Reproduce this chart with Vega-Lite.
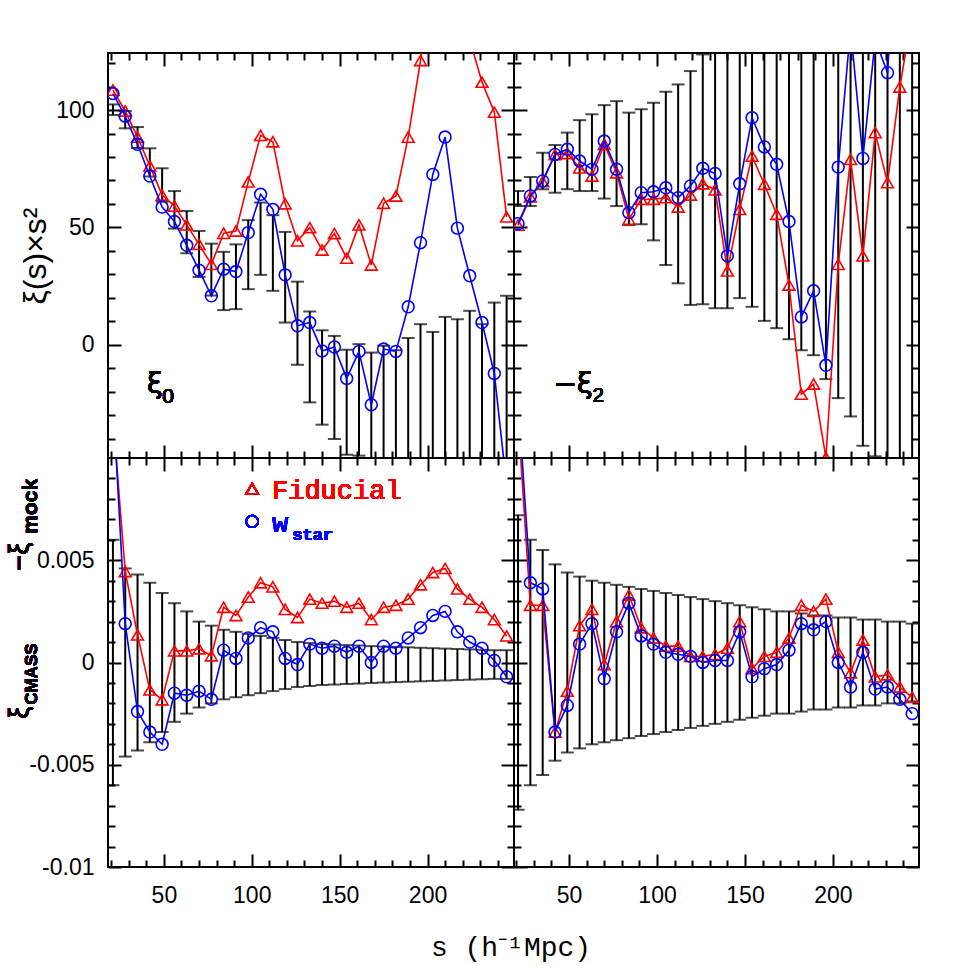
{
  "$schema": "https://vega.github.io/schema/vega-lite/v6.json",
  "background": "white",
  "padding": {"left": 5, "top": 51, "right": 5, "bottom": 5},
  "spacing": 0,
  "bounds": "flush",
  "columns": 2,
  "config": {
    "view": {"stroke": "black", "strokeWidth": 2},
    "axis": {"domain": false, "grid": false, "tickColor": "black", "tickWidth": 2, "labelColor": "black", "labelFont": "Liberation Sans", "labelFontSize": 23, "labelOverlap": false, "labelFlush": false, "title": null}
  },
  "title": {"text": "s (h⁻¹Mpc)", "orient": "bottom", "anchor": "middle", "font": "Liberation Mono", "fontSize": 28, "fontWeight": "normal", "color": "black", "offset": 20, "dx": 48},
  "datasets": {
    "d": [
      {"p":"TL","s":21,"f":108.5,"w":107,"lo":97.9,"hi":102.4},
      {"p":"TL","s":28,"f":99.6,"w":97.4,"lo":92.2,"hi":99.6},
      {"p":"TL","s":35,"f":88.5,"w":85.4,"lo":83.8,"hi":92.8},
      {"p":"TL","s":42,"f":76.2,"w":71.9,"lo":71.7,"hi":83.7},
      {"p":"TL","s":49,"f":63.8,"w":58.7,"lo":61,"hi":75.2},
      {"p":"TL","s":56,"f":59.1,"w":52.5,"lo":49.5,"hi":65.5},
      {"p":"TL","s":63,"f":51.1,"w":42.4,"lo":39,"hi":57},
      {"p":"TL","s":70,"f":42.8,"w":31.8,"lo":28.9,"hi":48.5},
      {"p":"TL","s":77,"f":34.3,"w":20.9,"lo":21,"hi":43.1},
      {"p":"TL","s":84,"f":47.5,"w":32.2,"lo":14.8,"hi":39.6},
      {"p":"TL","s":91,"f":48.5,"w":31.2,"lo":15.2,"hi":42.8},
      {"p":"TL","s":98,"f":69.4,"w":47.8,"lo":23.7,"hi":53.1},
      {"p":"TL","s":105,"f":89.2,"w":64.1,"lo":29.8,"hi":60.6},
      {"p":"TL","s":112,"f":86.5,"w":57.7,"lo":23,"hi":55.2},
      {"p":"TL","s":119,"f":60.1,"w":29.8,"lo":9.5,"hi":48.1},
      {"p":"TL","s":126,"f":44.3,"w":8.1,"lo":-8.5,"hi":26.9},
      {"p":"TL","s":133,"f":49.9,"w":9.5,"lo":-24.5,"hi":14.2},
      {"p":"TL","s":140,"f":40.4,"w":-2.6,"lo":-34,"hi":6.2},
      {"p":"TL","s":147,"f":47.4,"w":-0.9,"lo":-40.1,"hi":3.8},
      {"p":"TL","s":154,"f":36.9,"w":-14.3,"lo":-46.8,"hi":-2.1},
      {"p":"TL","s":161,"f":51.1,"w":-2.8,"lo":-47.2,"hi":0.3},
      {"p":"TL","s":168,"f":34,"w":-25.5,"lo":-53,"hi":-3.3},
      {"p":"TL","s":175,"f":60.3,"w":-1.8,"lo":-55,"hi":-0.4},
      {"p":"TL","s":182,"f":63.4,"w":-2.8,"lo":-60,"hi":-2.3},
      {"p":"TL","s":189,"f":88.5,"w":16.2,"lo":-60,"hi":2.9},
      {"p":"TL","s":196,"f":121.1,"w":43.5,"lo":-62,"hi":8.8},
      {"p":"TL","s":203,"f":155,"w":72.6,"lo":-65,"hi":5.5},
      {"p":"TL","s":210,"f":170,"w":88.5,"lo":-65,"hi":11.9},
      {"p":"TL","s":217,"f":160,"w":49.7,"lo":-70,"hi":10.9},
      {"p":"TL","s":224,"f":130,"w":29.4,"lo":-70,"hi":14.5},
      {"p":"TL","s":231,"f":111.9,"w":9.5,"lo":-80,"hi":8.8},
      {"p":"TL","s":238,"f":99.1,"w":-12.2,"lo":-80,"hi":18},
      {"p":"TL","s":245,"f":54.5,"w":-60,"lo":-85,"hi":20.9},

      {"p":"TR","s":21,"f":51,"w":51.6,"lo":59.1,"hi":65.5},
      {"p":"TR","s":28,"f":63,"w":63.4,"lo":59.1,"hi":71.5},
      {"p":"TR","s":35,"f":69.5,"w":69.8,"lo":66.3,"hi":81.8},
      {"p":"TR","s":42,"f":81,"w":81.1,"lo":64.8,"hi":85.1},
      {"p":"TR","s":49,"f":81.5,"w":83.3,"lo":66.3,"hi":90.4},
      {"p":"TR","s":56,"f":75.4,"w":78.3,"lo":65.5,"hi":95.7},
      {"p":"TR","s":63,"f":71.9,"w":74.8,"lo":65.5,"hi":98.2},
      {"p":"TR","s":70,"f":85.4,"w":86.8,"lo":62.3,"hi":102.1},
      {"p":"TR","s":77,"f":73.3,"w":74.8,"lo":59.1,"hi":103.8},
      {"p":"TR","s":84,"f":53.5,"w":56.3,"lo":51,"hi":98.9},
      {"p":"TR","s":91,"f":62,"w":64.8,"lo":51.4,"hi":100.3},
      {"p":"TR","s":98,"f":62,"w":65.2,"lo":44.5,"hi":103.1},
      {"p":"TR","s":105,"f":62.7,"w":66.9,"lo":34,"hi":107.8},
      {"p":"TR","s":112,"f":58.7,"w":62.7,"lo":26.2,"hi":110.9},
      {"p":"TR","s":119,"f":63.8,"w":67.7,"lo":17,"hi":116.6},
      {"p":"TR","s":126,"f":68.6,"w":75.2,"lo":17.3,"hi":123.7},
      {"p":"TR","s":133,"f":66,"w":73,"lo":15.6,"hi":135},
      {"p":"TR","s":140,"f":31.5,"w":37.9,"lo":15.6,"hi":140},
      {"p":"TR","s":147,"f":57.7,"w":68.6,"lo":19.9,"hi":145},
      {"p":"TR","s":154,"f":80.4,"w":96.7,"lo":16.2,"hi":150},
      {"p":"TR","s":161,"f":68.4,"w":84.3,"lo":10.2,"hi":155},
      {"p":"TR","s":168,"f":55.6,"w":76.9,"lo":7.1,"hi":160},
      {"p":"TR","s":175,"f":25.5,"w":52.5,"lo":2.4,"hi":165},
      {"p":"TR","s":182,"f":-21,"w":11.9,"lo":-2.3,"hi":170},
      {"p":"TR","s":189,"f":-16.7,"w":23,"lo":-4.4,"hi":170},
      {"p":"TR","s":196,"f":-48,"w":-8.7,"lo":-14.6,"hi":175},
      {"p":"TR","s":203,"f":34.3,"w":75.7,"lo":-22.7,"hi":180},
      {"p":"TR","s":210,"f":79,"w":135,"lo":-30.5,"hi":185},
      {"p":"TR","s":217,"f":37.9,"w":79.4,"lo":-43,"hi":190},
      {"p":"TR","s":224,"f":90.4,"w":130,"lo":-47.5,"hi":195},
      {"p":"TR","s":231,"f":69.1,"w":115.9,"lo":-55,"hi":200},
      {"p":"TR","s":238,"f":109.8,"w":200,"lo":-60,"hi":200},
      {"p":"TR","s":245,"f":141,"w":220,"lo":-65,"hi":200},

      {"p":"BL","s":21,"f":0.012,"w":0.013,"lo":-0.006,"hi":0.006},
      {"p":"BL","s":28,"f":0.00445,"w":0.0019,"lo":-0.0046,"hi":0.0046},
      {"p":"BL","s":35,"f":0.00135,"w":-0.0024,"lo":-0.0043,"hi":0.0043},
      {"p":"BL","s":42,"f":-0.00134,"w":-0.0034,"lo":-0.0039,"hi":0.0039},
      {"p":"BL","s":49,"f":-0.00182,"w":-0.004,"lo":-0.0034,"hi":0.0034},
      {"p":"BL","s":56,"f":0.00057,"w":-0.0015,"lo":-0.0029,"hi":0.0029},
      {"p":"BL","s":63,"f":0.00057,"w":-0.0016,"lo":-0.0025,"hi":0.0025},
      {"p":"BL","s":70,"f":0.00067,"w":-0.0014,"lo":-0.0022,"hi":0.002},
      {"p":"BL","s":77,"f":0.00033,"w":-0.0018,"lo":-0.002,"hi":0.0018},
      {"p":"BL","s":84,"f":0.0027,"w":0.0006,"lo":-0.0018,"hi":0.0016},
      {"p":"BL","s":91,"f":0.0023,"w":0.0002,"lo":-0.0017,"hi":0.0015},
      {"p":"BL","s":98,"f":0.0032,"w":0.0012,"lo":-0.0016,"hi":0.0014},
      {"p":"BL","s":105,"f":0.0039,"w":0.0017,"lo":-0.0015,"hi":0.0013},
      {"p":"BL","s":112,"f":0.0037,"w":0.0015,"lo":-0.0014,"hi":0.0012},
      {"p":"BL","s":119,"f":0.0026,"w":0.0002,"lo":-0.0013,"hi":0.0011},
      {"p":"BL","s":126,"f":0.0022,"w":-0.0001,"lo":-0.0012,"hi":0.001},
      {"p":"BL","s":133,"f":0.0031,"w":0.0009,"lo":-0.00115,"hi":0.00095},
      {"p":"BL","s":140,"f":0.0029,"w":0.0007,"lo":-0.0011,"hi":0.0009},
      {"p":"BL","s":147,"f":0.003,"w":0.0008,"lo":-0.00108,"hi":0.00088},
      {"p":"BL","s":154,"f":0.0027,"w":0.0005,"lo":-0.00105,"hi":0.00085},
      {"p":"BL","s":161,"f":0.0029,"w":0.0008,"lo":-0.00103,"hi":0.00083},
      {"p":"BL","s":168,"f":0.0021,"w":0.0,"lo":-0.001,"hi":0.0008},
      {"p":"BL","s":175,"f":0.0027,"w":0.0008,"lo":-0.00098,"hi":0.00078},
      {"p":"BL","s":182,"f":0.0028,"w":0.0007,"lo":-0.00096,"hi":0.00076},
      {"p":"BL","s":189,"f":0.0031,"w":0.0012,"lo":-0.00094,"hi":0.00074},
      {"p":"BL","s":196,"f":0.0038,"w":0.0017,"lo":-0.00092,"hi":0.00072},
      {"p":"BL","s":203,"f":0.0044,"w":0.0023,"lo":-0.0009,"hi":0.0007},
      {"p":"BL","s":210,"f":0.0046,"w":0.0025,"lo":-0.00088,"hi":0.00068},
      {"p":"BL","s":217,"f":0.0036,"w":0.0015,"lo":-0.00086,"hi":0.00066},
      {"p":"BL","s":224,"f":0.0031,"w":0.001,"lo":-0.00084,"hi":0.00064},
      {"p":"BL","s":231,"f":0.0027,"w":0.0007,"lo":-0.00082,"hi":0.00062},
      {"p":"BL","s":238,"f":0.0021,"w":0.0001,"lo":-0.0008,"hi":0.0006},
      {"p":"BL","s":245,"f":0.0013,"w":-0.0007,"lo":-0.0008,"hi":0.0006},

      {"p":"BR","s":21,"f":0.012,"w":0.013,"lo":-0.0072,"hi":0.0072},
      {"p":"BR","s":28,"f":0.0028,"w":0.0039,"lo":-0.006,"hi":0.006},
      {"p":"BR","s":35,"f":0.0028,"w":0.0036,"lo":-0.0055,"hi":0.0055},
      {"p":"BR","s":42,"f":-0.0034,"w":-0.0034,"lo":-0.0048,"hi":0.0048},
      {"p":"BR","s":49,"f":-0.0014,"w":-0.0021,"lo":-0.0044,"hi":0.0044},
      {"p":"BR","s":56,"f":0.0018,"w":0.0009,"lo":-0.0042,"hi":0.0042},
      {"p":"BR","s":63,"f":0.0026,"w":0.0019,"lo":-0.004,"hi":0.004},
      {"p":"BR","s":70,"f":-0.0001,"w":-0.0008,"lo":-0.0039,"hi":0.0039},
      {"p":"BR","s":77,"f":0.002,"w":0.0015,"lo":-0.0038,"hi":0.0038},
      {"p":"BR","s":84,"f":0.0033,"w":0.0029,"lo":-0.0037,"hi":0.0037},
      {"p":"BR","s":91,"f":0.0017,"w":0.0013,"lo":-0.0036,"hi":0.0036},
      {"p":"BR","s":98,"f":0.0012,"w":0.0009,"lo":-0.0035,"hi":0.0035},
      {"p":"BR","s":105,"f":0.0008,"w":0.0005,"lo":-0.0034,"hi":0.0034},
      {"p":"BR","s":112,"f":0.0008,"w":0.0004,"lo":-0.0033,"hi":0.0033},
      {"p":"BR","s":119,"f":0.0003,"w":0.0003,"lo":-0.0032,"hi":0.0032},
      {"p":"BR","s":126,"f":0.0003,"w":0.0,"lo":-0.0031,"hi":0.0031},
      {"p":"BR","s":133,"f":0.0004,"w":0.0001,"lo":-0.003,"hi":0.003},
      {"p":"BR","s":140,"f":0.0007,"w":0.0001,"lo":-0.0029,"hi":0.0029},
      {"p":"BR","s":147,"f":0.002,"w":0.0015,"lo":-0.0028,"hi":0.0028},
      {"p":"BR","s":154,"f":-0.0003,"w":-0.0007,"lo":-0.0027,"hi":0.0027},
      {"p":"BR","s":161,"f":0.0003,"w":-0.0003,"lo":-0.0026,"hi":0.0026},
      {"p":"BR","s":168,"f":0.0005,"w":-0.0001,"lo":-0.0025,"hi":0.0025},
      {"p":"BR","s":175,"f":0.0012,"w":0.0006,"lo":-0.0025,"hi":0.0025},
      {"p":"BR","s":182,"f":0.0028,"w":0.0019,"lo":-0.0024,"hi":0.0024},
      {"p":"BR","s":189,"f":0.0025,"w":0.0016,"lo":-0.0023,"hi":0.0023},
      {"p":"BR","s":196,"f":0.0031,"w":0.002,"lo":-0.0023,"hi":0.0023},
      {"p":"BR","s":203,"f":0.0005,"w":0.0,"lo":-0.0022,"hi":0.0022},
      {"p":"BR","s":210,"f":-0.0005,"w":-0.0012,"lo":-0.0022,"hi":0.0022},
      {"p":"BR","s":217,"f":0.0011,"w":0.0005,"lo":-0.0021,"hi":0.0021},
      {"p":"BR","s":224,"f":-0.0007,"w":-0.0013,"lo":-0.0021,"hi":0.0021},
      {"p":"BR","s":231,"f":-0.0006,"w":-0.0012,"lo":-0.002,"hi":0.002},
      {"p":"BR","s":238,"f":-0.0012,"w":-0.0018,"lo":-0.002,"hi":0.002},
      {"p":"BR","s":245,"f":-0.0017,"w":-0.0025,"lo":-0.0019,"hi":0.0019}
    ]
  },
  "concat": [
        {
          "width": 406, "height": 405,
          "data": {"name": "d"},
          "transform": [{"filter": "datum.p === 'TL'"}],
          "resolve": {"axis": {"x": "independent", "y": "independent"}},
          "layer": [
            {"mark": {"type": "rule", "clip": true, "color": "black", "strokeWidth": 2},
             "encoding": {
               "x": {"field": "s", "type": "quantitative", "scale": {"domain": [18.2, 249.2], "nice": false, "zero": false},
                     "axis": {"orient": "bottom", "values": [20,30,40,50,60,70,80,90,100,110,120,130,140,150,160,170,180,190,200,210,220,230,240], "labels": false,
                              "tickSize": {"condition": {"test": "datum.value % 50 === 0", "value": -13}, "value": -7}}},
               "y": {"field": "lo", "type": "quantitative", "scale": {"domain": [-48.2, 124.3], "nice": false, "zero": false},
                     "axis": {"orient": "left", "values": [-40,-30,-20,-10,0,10,20,30,40,50,60,70,80,90,100,110,120],
                              "tickSize": {"condition": {"test": "datum.value % 50 === 0", "value": -13}, "value": -7},
                              "labelExpr": "datum.value % 50 === 0 ? datum.label : ''", "labelPadding": 27,
                              "title": "ξ(s)×s²", "titleFont": "Liberation Sans", "titleFontSize": 32, "titleFontWeight": "normal", "titleColor": "black", "titlePadding": 3}},
               "y2": {"field": "hi"}}},
            {"mark": {"type": "tick", "clip": true, "color": "black", "thickness": 2, "size": 13, "orient": "horizontal"},
             "encoding": {
               "x": {"field": "s", "type": "quantitative",
                     "axis": {"orient": "top", "values": [20,30,40,50,60,70,80,90,100,110,120,130,140,150,160,170,180,190,200,210,220,230,240], "labels": false,
                              "tickSize": {"condition": {"test": "datum.value % 50 === 0", "value": -13}, "value": -7}}},
               "y": {"field": "lo", "type": "quantitative",
                     "axis": {"orient": "right", "values": [-40,-30,-20,-10,0,10,20,30,40,50,60,70,80,90,100,110,120], "labels": false,
                              "tickSize": {"condition": {"test": "datum.value % 50 === 0", "value": -13}, "value": -7}}}}},
            {"mark": {"type": "tick", "clip": true, "color": "black", "thickness": 2, "size": 13, "orient": "horizontal"},
             "encoding": {"x": {"field": "s", "type": "quantitative", "axis": null}, "y": {"field": "hi", "type": "quantitative", "axis": null}}},
            {"mark": {"type": "line", "clip": true, "color": "#ff0000", "strokeWidth": 1.6},
             "encoding": {"x": {"field": "s", "type": "quantitative", "axis": null}, "y": {"field": "f", "type": "quantitative", "axis": null}}},
            {"mark": {"type": "point", "clip": true, "shape": "triangle-up", "filled": false, "color": "#ff0000", "size": 140, "strokeWidth": 1.6, "opacity": 1},
             "encoding": {"x": {"field": "s", "type": "quantitative", "axis": null}, "y": {"field": "f", "type": "quantitative", "axis": null}}},
            {"mark": {"type": "line", "clip": true, "color": "#0000ff", "strokeWidth": 1.6},
             "encoding": {"x": {"field": "s", "type": "quantitative", "axis": null}, "y": {"field": "w", "type": "quantitative", "axis": null}}},
            {"mark": {"type": "point", "clip": true, "shape": "circle", "filled": false, "color": "#0000ff", "size": 140, "strokeWidth": 1.6, "opacity": 1},
             "encoding": {"x": {"field": "s", "type": "quantitative", "axis": null}, "y": {"field": "w", "type": "quantitative", "axis": null}}},
            {"mark": {"type": "text", "text": "ξ", "font": "DejaVu Sans", "fontSize": 28, "align": "center", "baseline": "alphabetic", "color": "black"},
             "encoding": {"x": {"datum": 44.8, "type": "quantitative", "axis": null}, "y": {"datum": -20.4, "type": "quantitative", "axis": null}}},
            {"mark": {"type": "text", "text": "0", "font": "Liberation Sans", "fontSize": 21, "align": "left", "baseline": "alphabetic", "color": "black"},
             "encoding": {"x": {"datum": 49, "type": "quantitative", "axis": null}, "y": {"datum": -24.7, "type": "quantitative", "axis": null}}}
          ]
        },
        {
          "width": 405, "height": 405,
          "data": {"name": "d"},
          "transform": [{"filter": "datum.p === 'TR'"}],
          "resolve": {"axis": {"x": "independent", "y": "independent"}},
          "layer": [
            {"mark": {"type": "rule", "clip": true, "color": "black", "strokeWidth": 2},
             "encoding": {
               "x": {"field": "s", "type": "quantitative", "scale": {"domain": [18.7, 248.9], "nice": false, "zero": false},
                     "axis": {"orient": "bottom", "values": [20,30,40,50,60,70,80,90,100,110,120,130,140,150,160,170,180,190,200,210,220,230,240], "labels": false,
                              "tickSize": {"condition": {"test": "datum.value % 50 === 0", "value": -13}, "value": -7}}},
               "y": {"field": "lo", "type": "quantitative", "scale": {"domain": [-48.2, 124.3], "nice": false, "zero": false},
                     "axis": {"orient": "left", "values": [-40,-30,-20,-10,0,10,20,30,40,50,60,70,80,90,100,110,120], "labels": false,
                              "tickSize": {"condition": {"test": "datum.value % 50 === 0", "value": -13}, "value": -7}}},
               "y2": {"field": "hi"}}},
            {"mark": {"type": "tick", "clip": true, "color": "black", "thickness": 2, "size": 13, "orient": "horizontal"},
             "encoding": {
               "x": {"field": "s", "type": "quantitative",
                     "axis": {"orient": "top", "values": [20,30,40,50,60,70,80,90,100,110,120,130,140,150,160,170,180,190,200,210,220,230,240], "labels": false,
                              "tickSize": {"condition": {"test": "datum.value % 50 === 0", "value": -13}, "value": -7}}},
               "y": {"field": "lo", "type": "quantitative",
                     "axis": {"orient": "right", "values": [-40,-30,-20,-10,0,10,20,30,40,50,60,70,80,90,100,110,120], "labels": false,
                              "tickSize": {"condition": {"test": "datum.value % 50 === 0", "value": -13}, "value": -7}}}}},
            {"mark": {"type": "tick", "clip": true, "color": "black", "thickness": 2, "size": 13, "orient": "horizontal"},
             "encoding": {"x": {"field": "s", "type": "quantitative", "axis": null}, "y": {"field": "hi", "type": "quantitative", "axis": null}}},
            {"mark": {"type": "line", "clip": true, "color": "#ff0000", "strokeWidth": 1.6},
             "encoding": {"x": {"field": "s", "type": "quantitative", "axis": null}, "y": {"field": "f", "type": "quantitative", "axis": null}}},
            {"mark": {"type": "point", "clip": true, "shape": "triangle-up", "filled": false, "color": "#ff0000", "size": 140, "strokeWidth": 1.6, "opacity": 1},
             "encoding": {"x": {"field": "s", "type": "quantitative", "axis": null}, "y": {"field": "f", "type": "quantitative", "axis": null}}},
            {"mark": {"type": "line", "clip": true, "color": "#0000ff", "strokeWidth": 1.6},
             "encoding": {"x": {"field": "s", "type": "quantitative", "axis": null}, "y": {"field": "w", "type": "quantitative", "axis": null}}},
            {"mark": {"type": "point", "clip": true, "shape": "circle", "filled": false, "color": "#0000ff", "size": 140, "strokeWidth": 1.6, "opacity": 1},
             "encoding": {"x": {"field": "s", "type": "quantitative", "axis": null}, "y": {"field": "w", "type": "quantitative", "axis": null}}},
            {"mark": {"type": "text", "text": "−ξ", "font": "DejaVu Sans", "fontSize": 28, "align": "right", "baseline": "alphabetic", "color": "black"},
             "encoding": {"x": {"datum": 63.4, "type": "quantitative", "axis": null}, "y": {"datum": -20.4, "type": "quantitative", "axis": null}}},
            {"mark": {"type": "text", "text": "2", "font": "Liberation Sans", "fontSize": 20, "align": "left", "baseline": "alphabetic", "color": "black"},
             "encoding": {"x": {"datum": 63.4, "type": "quantitative", "axis": null}, "y": {"datum": -24.3, "type": "quantitative", "axis": null}}}
          ]
        },
        {
          "width": 406, "height": 409,
          "data": {"name": "d"},
          "transform": [{"filter": "datum.p === 'BL'"}],
          "resolve": {"axis": {"x": "independent", "y": "independent"}},
          "layer": [
            {"mark": {"type": "rule", "clip": true, "color": "black", "strokeWidth": 2},
             "encoding": {
               "x": {"field": "s", "type": "quantitative", "scale": {"domain": [18.2, 249.2], "nice": false, "zero": false},
                     "axis": {"orient": "bottom", "values": [20,30,40,50,60,70,80,90,100,110,120,130,140,150,160,170,180,190,200,210,220,230,240],
                              "labelExpr": "datum.value % 50 === 0 ? datum.label : ''", "labelPadding": 30,
                              "tickSize": {"condition": {"test": "datum.value % 50 === 0", "value": -13}, "value": -7}}},
               "y": {"field": "lo", "type": "quantitative", "scale": {"domain": [-0.01, 0.01], "nice": false, "zero": false},
                     "axis": {"orient": "left", "values": [-0.01,-0.009,-0.008,-0.007,-0.006,-0.005,-0.004,-0.003,-0.002,-0.001,0,0.001,0.002,0.003,0.004,0.005,0.006,0.007,0.008,0.009],
                              "format": "~g",
                              "tickSize": {"condition": {"test": "round(datum.value*1000) % 5 === 0", "value": -13}, "value": -7},
                              "labelExpr": "round(datum.value*1000) % 5 === 0 ? replace(datum.label, '−', '-') : ''", "labelPadding": 27}},
               "y2": {"field": "hi"}}},
            {"mark": {"type": "tick", "clip": true, "color": "black", "thickness": 2, "size": 13, "orient": "horizontal"},
             "encoding": {
               "x": {"field": "s", "type": "quantitative",
                     "axis": {"orient": "top", "values": [20,30,40,50,60,70,80,90,100,110,120,130,140,150,160,170,180,190,200,210,220,230,240], "labels": false,
                              "tickSize": {"condition": {"test": "datum.value % 50 === 0", "value": -13}, "value": -7}}},
               "y": {"field": "lo", "type": "quantitative",
                     "axis": {"orient": "right", "values": [-0.01,-0.009,-0.008,-0.007,-0.006,-0.005,-0.004,-0.003,-0.002,-0.001,0,0.001,0.002,0.003,0.004,0.005,0.006,0.007,0.008,0.009], "labels": false,
                              "tickSize": {"condition": {"test": "round(datum.value*1000) % 5 === 0", "value": -13}, "value": -7}}}}},
            {"mark": {"type": "tick", "clip": true, "color": "black", "thickness": 2, "size": 13, "orient": "horizontal"},
             "encoding": {"x": {"field": "s", "type": "quantitative", "axis": null}, "y": {"field": "hi", "type": "quantitative", "axis": null}}},
            {"mark": {"type": "line", "clip": true, "color": "#ff0000", "strokeWidth": 1.6},
             "encoding": {"x": {"field": "s", "type": "quantitative", "axis": null}, "y": {"field": "f", "type": "quantitative", "axis": null}}},
            {"mark": {"type": "point", "clip": true, "shape": "triangle-up", "filled": false, "color": "#ff0000", "size": 140, "strokeWidth": 1.6, "opacity": 1},
             "encoding": {"x": {"field": "s", "type": "quantitative", "axis": null}, "y": {"field": "f", "type": "quantitative", "axis": null}}},
            {"mark": {"type": "line", "clip": true, "color": "#0000ff", "strokeWidth": 1.6},
             "encoding": {"x": {"field": "s", "type": "quantitative", "axis": null}, "y": {"field": "w", "type": "quantitative", "axis": null}}},
            {"mark": {"type": "point", "clip": true, "shape": "circle", "filled": false, "color": "#0000ff", "size": 140, "strokeWidth": 1.6, "opacity": 1},
             "encoding": {"x": {"field": "s", "type": "quantitative", "axis": null}, "y": {"field": "w", "type": "quantitative", "axis": null}}},
            {"mark": {"type": "point", "shape": "triangle-up", "filled": false, "color": "#ff0000", "size": 140, "strokeWidth": 1.6, "opacity": 1},
             "encoding": {"x": {"datum": 100.2, "type": "quantitative", "axis": null}, "y": {"datum": 0.0085, "type": "quantitative", "axis": null}}},
            {"mark": {"type": "point", "shape": "circle", "filled": false, "color": "#0000ff", "size": 140, "strokeWidth": 1.6, "opacity": 1},
             "encoding": {"x": {"datum": 100.2, "type": "quantitative", "axis": null}, "y": {"datum": 0.0069, "type": "quantitative", "axis": null}}},
            {"mark": {"type": "text", "text": "Fiducial", "font": "Liberation Mono", "fontSize": 27, "align": "left", "baseline": "alphabetic", "color": "#ff0000"},
             "encoding": {"x": {"datum": 111.5, "type": "quantitative", "axis": null}, "y": {"datum": 0.008, "type": "quantitative", "axis": null}}},
            {"mark": {"type": "text", "text": "w", "font": "Liberation Mono", "fontSize": 27, "align": "left", "baseline": "alphabetic", "color": "#0000ff"},
             "encoding": {"x": {"datum": 111.5, "type": "quantitative", "axis": null}, "y": {"datum": 0.0064, "type": "quantitative", "axis": null}}},
            {"mark": {"type": "text", "text": "star", "font": "Liberation Mono", "fontSize": 17, "fontWeight": "bold", "align": "left", "baseline": "alphabetic", "color": "#0000ff"},
             "encoding": {"x": {"datum": 123, "type": "quantitative", "axis": null}, "y": {"datum": 0.006, "type": "quantitative", "axis": null}}},
            {"mark": {"type": "text", "text": "ξ", "font": "Liberation Sans", "fontSize": 27, "angle": 270, "align": "left", "baseline": "alphabetic", "color": "black"},
             "encoding": {"x": {"datum": -27.3, "type": "quantitative", "axis": null}, "y": {"datum": -0.00275, "type": "quantitative", "axis": null}}},
            {"mark": {"type": "text", "text": "CMASS", "font": "Liberation Sans", "fontSize": 17, "fontWeight": "bold", "angle": 270, "align": "left", "baseline": "alphabetic", "color": "black"},
             "encoding": {"x": {"datum": -22, "type": "quantitative", "axis": null}, "y": {"datum": -0.00207, "type": "quantitative", "axis": null}}},
            {"mark": {"type": "text", "text": "−ξ", "font": "Liberation Sans", "fontSize": 27, "angle": 270, "align": "left", "baseline": "alphabetic", "color": "black"},
             "encoding": {"x": {"datum": -27.3, "type": "quantitative", "axis": null}, "y": {"datum": 0.0045, "type": "quantitative", "axis": null}}},
            {"mark": {"type": "text", "text": "mock", "font": "Liberation Sans", "fontSize": 21, "fontWeight": "bold", "angle": 270, "align": "left", "baseline": "alphabetic", "color": "black"},
             "encoding": {"x": {"datum": -22.2, "type": "quantitative", "axis": null}, "y": {"datum": 0.0063, "type": "quantitative", "axis": null}}}
          ]
        },
        {
          "width": 405, "height": 409,
          "data": {"name": "d"},
          "transform": [{"filter": "datum.p === 'BR'"}],
          "resolve": {"axis": {"x": "independent", "y": "independent"}},
          "layer": [
            {"mark": {"type": "rule", "clip": true, "color": "black", "strokeWidth": 2},
             "encoding": {
               "x": {"field": "s", "type": "quantitative", "scale": {"domain": [18.7, 248.9], "nice": false, "zero": false},
                     "axis": {"orient": "bottom", "values": [20,30,40,50,60,70,80,90,100,110,120,130,140,150,160,170,180,190,200,210,220,230,240],
                              "labelExpr": "datum.value % 50 === 0 ? datum.label : ''", "labelPadding": 30,
                              "tickSize": {"condition": {"test": "datum.value % 50 === 0", "value": -13}, "value": -7}}},
               "y": {"field": "lo", "type": "quantitative", "scale": {"domain": [-0.01, 0.01], "nice": false, "zero": false},
                     "axis": {"orient": "left", "values": [-0.01,-0.009,-0.008,-0.007,-0.006,-0.005,-0.004,-0.003,-0.002,-0.001,0,0.001,0.002,0.003,0.004,0.005,0.006,0.007,0.008,0.009], "labels": false,
                              "tickSize": {"condition": {"test": "round(datum.value*1000) % 5 === 0", "value": -13}, "value": -7}}},
               "y2": {"field": "hi"}}},
            {"mark": {"type": "tick", "clip": true, "color": "black", "thickness": 2, "size": 13, "orient": "horizontal"},
             "encoding": {
               "x": {"field": "s", "type": "quantitative",
                     "axis": {"orient": "top", "values": [20,30,40,50,60,70,80,90,100,110,120,130,140,150,160,170,180,190,200,210,220,230,240], "labels": false,
                              "tickSize": {"condition": {"test": "datum.value % 50 === 0", "value": -13}, "value": -7}}},
               "y": {"field": "lo", "type": "quantitative",
                     "axis": {"orient": "right", "values": [-0.01,-0.009,-0.008,-0.007,-0.006,-0.005,-0.004,-0.003,-0.002,-0.001,0,0.001,0.002,0.003,0.004,0.005,0.006,0.007,0.008,0.009], "labels": false,
                              "tickSize": {"condition": {"test": "round(datum.value*1000) % 5 === 0", "value": -13}, "value": -7}}}}},
            {"mark": {"type": "tick", "clip": true, "color": "black", "thickness": 2, "size": 13, "orient": "horizontal"},
             "encoding": {"x": {"field": "s", "type": "quantitative", "axis": null}, "y": {"field": "hi", "type": "quantitative", "axis": null}}},
            {"mark": {"type": "line", "clip": true, "color": "#ff0000", "strokeWidth": 1.6},
             "encoding": {"x": {"field": "s", "type": "quantitative", "axis": null}, "y": {"field": "f", "type": "quantitative", "axis": null}}},
            {"mark": {"type": "point", "clip": true, "shape": "triangle-up", "filled": false, "color": "#ff0000", "size": 140, "strokeWidth": 1.6, "opacity": 1},
             "encoding": {"x": {"field": "s", "type": "quantitative", "axis": null}, "y": {"field": "f", "type": "quantitative", "axis": null}}},
            {"mark": {"type": "line", "clip": true, "color": "#0000ff", "strokeWidth": 1.6},
             "encoding": {"x": {"field": "s", "type": "quantitative", "axis": null}, "y": {"field": "w", "type": "quantitative", "axis": null}}},
            {"mark": {"type": "point", "clip": true, "shape": "circle", "filled": false, "color": "#0000ff", "size": 140, "strokeWidth": 1.6, "opacity": 1},
             "encoding": {"x": {"field": "s", "type": "quantitative", "axis": null}, "y": {"field": "w", "type": "quantitative", "axis": null}}}
          ]
        }
  ]
}
